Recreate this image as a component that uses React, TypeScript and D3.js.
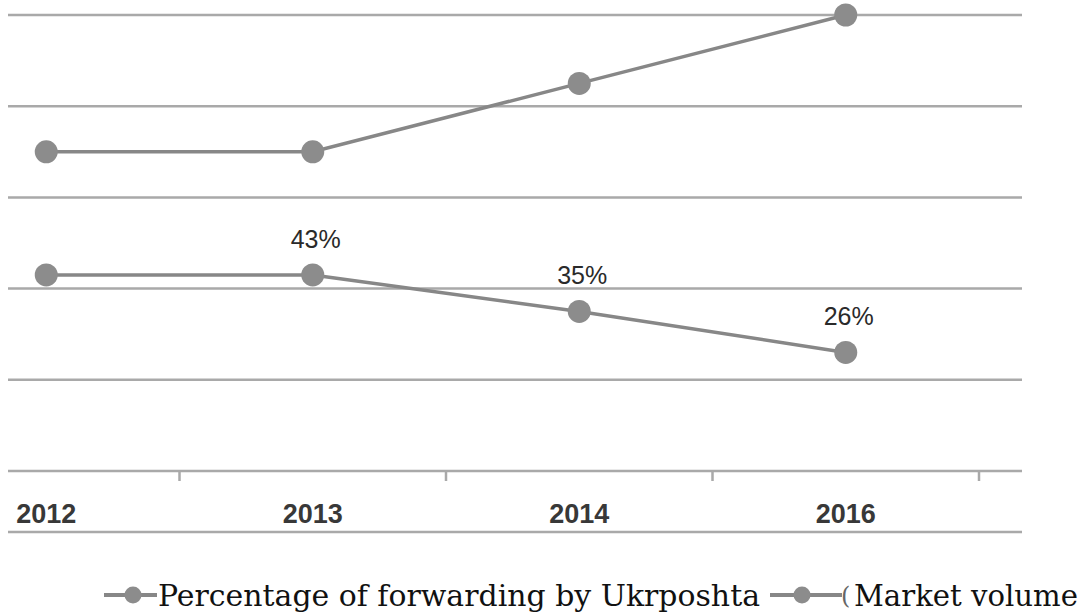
import React from "react";
import * as d3 from "d3";

const categories = ["2012", "2013", "2014", "2016"];
const percentageValues = [43, 43, 35, 26];
const percentageLabels = ["", "43%", "35%", "26%"];
const marketValues = [70, 70, 85, 100];
const yTicks = [0, 20, 40, 60, 80, 100];
const legendLabels = ["Percentage of forwarding by Ukrposhta", "Market volume"];

const W = 1081;
const H = 612;

export default function App() {
  const x = d3.scaleBand<string>().domain(categories).range([-87, 979]).paddingInner(0).paddingOuter(0);
  const y = d3.scaleLinear().domain([0, 100]).range([471, 15]);
  const cx = (c: string) => (x(c) as number) + x.bandwidth() / 2;
  const line = d3
    .line<number>()
    .x((_, i) => cx(categories[i]))
    .y((d) => y(d));

  const gridColor = "#a9a9a9";
  const lineColor = "#878787";
  const dotColor = "#8c8c8c";

  return (
    <svg
      width={W}
      height={H}
      style={{ position: "absolute", left: 0, top: 0, background: "#fff" }}
    >
      <rect width={W} height={H} fill="#fff" />
      {yTicks.map((t) => (
        <line key={t} x1={8} x2={1022} y1={y(t)} y2={y(t)} stroke={gridColor} strokeWidth={2.5} />
      ))}
      {categories.map((c) => (
        <line
          key={"tk" + c}
          x1={(x(c) as number) + x.bandwidth()}
          x2={(x(c) as number) + x.bandwidth()}
          y1={y(0)}
          y2={y(0) + 10}
          stroke={gridColor}
          strokeWidth={2.5}
        />
      ))}
      <line x1={8} x2={1022} y1={532} y2={532} stroke={gridColor} strokeWidth={2.5} />
      {categories.map((c) => (
        <text
          key={"lb" + c}
          x={cx(c)}
          y={523}
          textAnchor="middle"
          fontFamily="'Liberation Sans', Arial, sans-serif"
          fontWeight="bold"
          fontSize={27}
          fill="#383838"
        >
          {c}
        </text>
      ))}
      <path d={line(marketValues) || ""} fill="none" stroke={lineColor} strokeWidth={3.5} />
      <path d={line(percentageValues) || ""} fill="none" stroke={lineColor} strokeWidth={3.5} />
      {marketValues.map((v, i) => (
        <circle key={"m" + i} cx={cx(categories[i])} cy={y(v)} r={11.5} fill={dotColor} />
      ))}
      {percentageValues.map((v, i) => (
        <circle key={"p" + i} cx={cx(categories[i])} cy={y(v)} r={11.5} fill={dotColor} />
      ))}
      {percentageValues.map((v, i) =>
        percentageLabels[i] ? (
          <text
            key={"pl" + i}
            x={cx(categories[i]) + 3}
            y={y(v) - 27}
            textAnchor="middle"
            fontFamily="'Liberation Sans', Arial, sans-serif"
            fontSize={25}
            fill="#2a2a2a"
          >
            {percentageLabels[i]}
          </text>
        ) : null
      )}
      {/* legend */}
      <line x1={104} x2={157} y1={595} y2={595} stroke={lineColor} strokeWidth={4} />
      <circle cx={133} cy={595} r={8.5} fill={dotColor} />
      <text
        x={158}
        y={606}
        fontFamily="'DejaVu Serif', 'Liberation Serif', serif"
        fontSize={29}
        fill="#111"
        textLength={602}
        lengthAdjust="spacingAndGlyphs"
      >
        {legendLabels[0]}
      </text>
      <line x1={770} x2={842} y1={595} y2={595} stroke={lineColor} strokeWidth={4} />
      <circle cx={802} cy={595} r={8.5} fill={dotColor} />
      <text x={841} y={604} fontFamily="'DejaVu Serif', serif" fontSize={24} fill="#666">
        (
      </text>
      <text
        x={854}
        y={606}
        fontFamily="'DejaVu Serif', 'Liberation Serif', serif"
        fontSize={29}
        fill="#111"
        textLength={224}
        lengthAdjust="spacingAndGlyphs"
      >
        {legendLabels[1]}
      </text>
    </svg>
  );
}
